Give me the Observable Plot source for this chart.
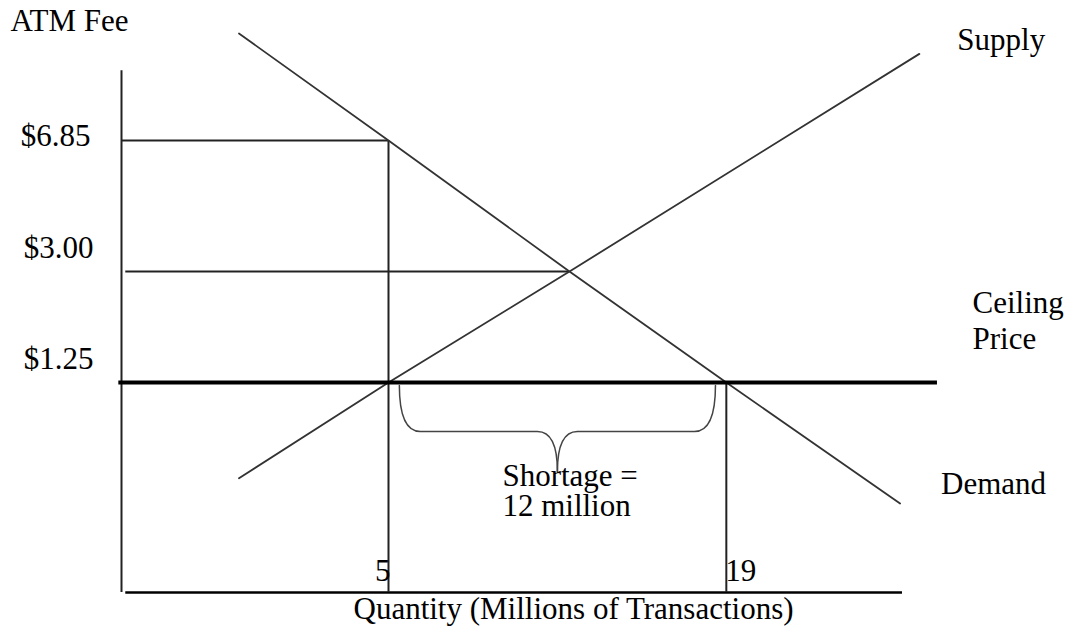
<!DOCTYPE html>
<html>
<head>
<meta charset="utf-8">
<script src="https://cdn.jsdelivr.net/npm/d3@7"></script>
<script src="https://cdn.jsdelivr.net/npm/@observablehq/plot@0.6"></script>
<style>
  html, body { margin: 0; padding: 0; background: #fff; }
</style>
</head>
<body>
<div id="chart"></div>
<script>
// ---- Data (price in $, quantity in millions of transactions) ----
const priceTicks = [6.85, 3.00, 1.25];
const priceTickLabels = ["$6.85", "$3.00", "$1.25"];
const quantityTicks = [5, 19];
const quantityTickLabels = ["5", "19"];

const ceilingPrice = 1.25;
const quantitySupplied = 5;     // at the ceiling
const quantityDemanded = 19;    // at the ceiling
const demandPriceAtQs = 6.85;   // price buyers would pay for 5 million
const equilibriumQ = 12.5;
const equilibriumP = 3.00;

const supplyQ = [2.2, 5, 12.5, 27];
const supplyP = [0.68, 1.25, 3.00, 9.4];
const demandQ = [2.2, 5, 12.5, 19, 26.2];
const demandP = [10.0, 6.85, 3.00, 1.25, 0.53];

const axisTopP = 8.9;
const axisEndQ = 26.3;
const ceilingEndQ = 27.75;

const curveLabels = ["Supply", "Demand", "Ceiling\nPrice"];
const shortageLabel = "Shortage =\n12 million";
const yTitle = "ATM Fee";
const xTitle = "Quantity (Millions of Transactions)";

// ---- Derived tables ----
const supply = supplyQ.map((q, i) => ({q, p: supplyP[i]}));
const demand = demandQ.map((q, i) => ({q, p: demandP[i]}));
const ticksY = priceTicks.map((p, i) => ({p, label: priceTickLabels[i]}));
const ticksX = quantityTicks.map((q, i) => ({q, label: quantityTickLabels[i]}));

// Curly brace spanning the shortage (Qs to Qd), tip at the midpoint.
// Points alternate: on-curve, control, on-curve, control, ... (quadratic segments)
function brace(lo, hi, top, bar, tip) {
  const mid = (lo + hi) / 2;
  const half = (a, s) => [
    {q: a, p: top},
    {q: a, p: bar},                 // control
    {q: a + s * 0.87, p: bar},
    {q: mid - s * 0.83, p: bar},    // control (straight)
    {q: mid - s * 0.83, p: bar},
    {q: mid, p: bar},               // control
    {q: mid, p: tip}
  ];
  return [half(lo, 1).map(d => ({...d, side: "L"})), half(hi, -1).map(d => ({...d, side: "R"}))].flat();
}
const braceData = brace(quantitySupplied + 0.45, quantityDemanded - 0.45, 1.232, 0.958, 0.72);
const braceTip = {q: (quantitySupplied + quantityDemanded) / 2, p: 0.72};

// custom curve: quadratic Bézier segments through alternating control points
function quadCurve(context) {
  let pts = [];
  return {
    areaStart() {}, areaEnd() {},
    lineStart() { pts = []; },
    point(x, y) { pts.push([+x, +y]); },
    lineEnd() {
      if (!pts.length) return;
      context.moveTo(pts[0][0], pts[0][1]);
      for (let i = 1; i + 1 < pts.length; i += 2) {
        context.quadraticCurveTo(pts[i][0], pts[i][1], pts[i + 1][0], pts[i + 1][1]);
      }
    }
  };
}

const FONT = "Liberation Serif, Times New Roman, serif";
const FS = 31;
const INK = "#222";

const chart = Plot.plot({
  width: 1070,
  height: 635,
  marginTop: 0, marginRight: 0, marginBottom: 0, marginLeft: 0,
  style: {fontFamily: FONT, background: "#fff", color: "#000"},
  x: {type: "linear", domain: [0, 5, 28], range: [121, 388, 943], axis: null},
  y: {type: "linear", domain: [0, 1.25, 3, 6.85, 10], range: [592, 382, 271, 140, 33], axis: null},
  marks: [
    // axes
    Plot.ruleX([0], {y1: 0, y2: axisTopP, stroke: INK, strokeWidth: 2}),
    Plot.ruleY([0], {x1: 0.08, x2: axisEndQ, stroke: "#000", strokeWidth: 2.5}),
    // guide lines
    Plot.ruleY([demandPriceAtQs], {x1: 0, x2: quantitySupplied, stroke: INK, strokeWidth: 2}),
    Plot.ruleY([equilibriumP], {x1: 0.08, x2: equilibriumQ, stroke: INK, strokeWidth: 2}),
    Plot.ruleX([quantitySupplied], {y1: 0, y2: demandPriceAtQs, stroke: INK, strokeWidth: 2}),
    Plot.ruleX([quantityDemanded], {y1: 0, y2: ceilingPrice, stroke: INK, strokeWidth: 2}),
    // supply & demand
    Plot.line(supply, {x: "q", y: "p", stroke: "#333", strokeWidth: 1.8}),
    Plot.line(demand, {x: "q", y: "p", stroke: "#333", strokeWidth: 1.8}),
    // ceiling price
    Plot.ruleY([ceilingPrice], {x1: -0.05, x2: ceilingEndQ, stroke: "#000", strokeWidth: 4}),
    // brace
    Plot.line(braceData, {x: "q", y: "p", z: "side", curve: quadCurve, stroke: "#444", strokeWidth: 1.5}),
    // price tick labels
    Plot.text(ticksY.filter(d => d.p === demandPriceAtQs), {x: 0, y: "p", text: "label", textAnchor: "end", lineAnchor: "bottom", dx: -31, dy: 5, fontSize: FS, fill: "#000"}),
    Plot.text(ticksY.filter(d => d.p !== demandPriceAtQs), {x: 0, y: "p", text: "label", textAnchor: "end", lineAnchor: "bottom", dx: -28, dy: -14, fontSize: FS, fill: "#000"}),
    // quantity tick labels
    Plot.text(ticksX.filter(d => d.q === quantitySupplied), {x: "q", y: 0, text: "label", textAnchor: "end", lineAnchor: "bottom", dx: 2, dy: -12, fontSize: FS, fill: "#000"}),
    Plot.text(ticksX.filter(d => d.q === quantityDemanded), {x: "q", y: 0, text: "label", textAnchor: "start", lineAnchor: "bottom", dx: -1, dy: -12, fontSize: FS, fill: "#000"}),
    // curve labels
    Plot.text([supply[supply.length - 1]], {x: "q", y: "p", text: [curveLabels[0]], textAnchor: "start", lineAnchor: "bottom", dx: 38, dy: -4, fontSize: FS, fill: "#000"}),
    Plot.text([demand[demand.length - 1]], {x: "q", y: "p", text: [curveLabels[1]], textAnchor: "start", lineAnchor: "bottom", dx: 41, dy: -9, fontSize: FS, fill: "#000"}),
    Plot.text([{q: ceilingEndQ, p: ceilingPrice}], {x: "q", y: "p", text: [curveLabels[2]], textAnchor: "start", lineAnchor: "bottom", lineHeight: 1.16, dx: 35, dy: -34, fontSize: FS, fill: "#000"}),
    // shortage label
    Plot.text([braceTip], {x: "q", y: "p", text: [shortageLabel], textAnchor: "start", lineAnchor: "bottom", lineHeight: 0.94, dx: -55, dy: 44, fontSize: FS, fill: "#000"}),
    // axis titles
    Plot.text([yTitle], {frameAnchor: "top-left", textAnchor: "start", lineAnchor: "bottom", dx: 10, dy: 30, fontSize: FS, fill: "#000"}),
    Plot.text([xTitle], {frameAnchor: "bottom-left", textAnchor: "start", lineAnchor: "bottom", dx: 353, dy: -17, fontSize: FS, fill: "#000"})
  ]
});
document.getElementById("chart").appendChild(chart);
</script>
</body>
</html>
